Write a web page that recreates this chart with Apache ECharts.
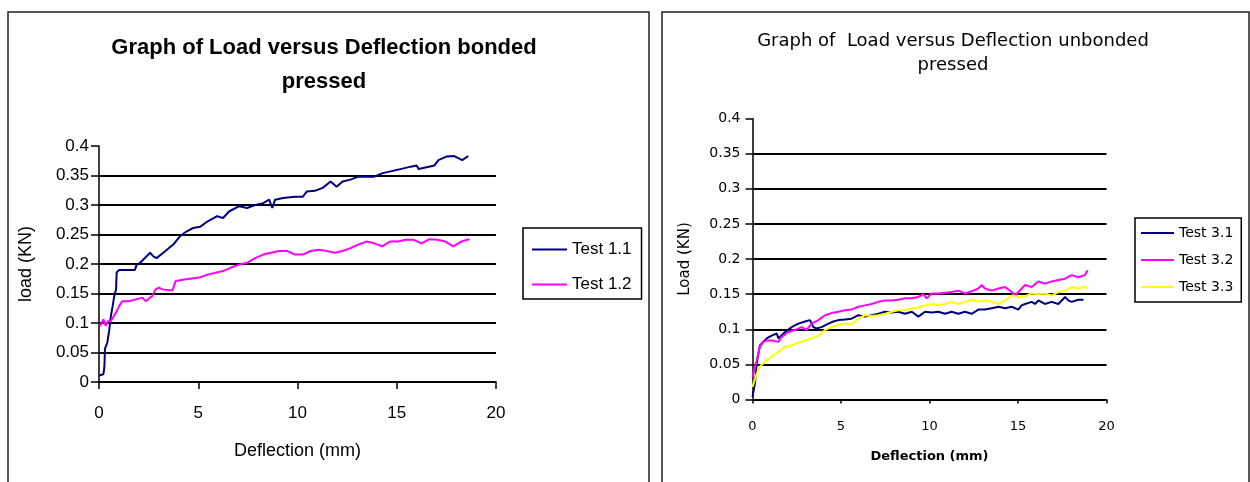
<!DOCTYPE html>
<html>
<head>
<meta charset="utf-8">
<script src="https://cdn.jsdelivr.net/npm/echarts@6/dist/echarts.min.js"></script>
<style>html,body{margin:0;padding:0;background:#fff}#c{width:1250px;height:482px}</style>
</head>
<body>
<div id="c"></div>
<script>
// ---- Data ----
const leftTitle = 'Graph of Load versus Deflection bonded\npressed';
const rightTitle = 'Graph of  Load versus Deflection unbonded\npressed';
const leftNames = ['Test 1.1', 'Test 1.2'];
const rightNames = ['Test 3.1', 'Test 3.2', 'Test 3.3'];

const t11x = [0,0.22,0.27,0.3,0.42,0.52,0.6,0.69,0.77,0.86,0.89,1.02,1.81,1.9,2.07,2.4,2.57,2.74,2.9,3.24,3.74,4.08,4.4,4.74,5.09,5.46,5.95,6.25,6.55,7.06,7.46,7.87,8.27,8.57,8.73,8.87,9.27,9.87,10.27,10.47,10.87,11.27,11.67,11.97,12.27,12.67,13.07,13.87,14.29,14.69,15.09,15.7,16.0,16.1,16.9,17.1,17.5,17.9,18.3,18.6];
const t11y = [0.011,0.013,0.025,0.056,0.067,0.089,0.112,0.129,0.146,0.157,0.186,0.19,0.19,0.199,0.202,0.213,0.219,0.213,0.21,0.219,0.233,0.247,0.255,0.261,0.263,0.272,0.281,0.278,0.289,0.298,0.295,0.300,0.303,0.309,0.295,0.309,0.312,0.314,0.314,0.323,0.324,0.329,0.34,0.331,0.34,0.343,0.348,0.348,0.354,0.357,0.36,0.365,0.367,0.361,0.367,0.376,0.382,0.383,0.376,0.383];

const t12x = [0.05,0.22,0.34,0.45,0.59,0.7,0.86,1.02,1.18,1.51,1.85,2.18,2.35,2.69,2.85,3.02,3.19,3.7,3.86,4.37,5.06,5.46,6.25,6.65,7.06,7.46,7.87,8.27,8.67,9.07,9.47,9.87,10.27,10.67,11.07,11.47,11.87,12.27,12.67,13.07,13.47,13.87,14.26,14.66,15.06,15.45,15.85,16.25,16.65,17.05,17.45,17.85,18.25,18.65];
const t12y = [0.095,0.106,0.095,0.103,0.103,0.109,0.118,0.129,0.137,0.137,0.140,0.143,0.137,0.146,0.157,0.16,0.157,0.155,0.171,0.174,0.177,0.182,0.188,0.194,0.199,0.202,0.21,0.216,0.219,0.222,0.222,0.216,0.216,0.222,0.224,0.222,0.219,0.222,0.227,0.233,0.238,0.235,0.230,0.238,0.238,0.241,0.241,0.235,0.242,0.241,0.238,0.23,0.238,0.242];

const t31x = [0,0.14,0.24,0.33,0.42,0.61,0.8,1.08,1.37,1.46,1.84,2.21,2.59,2.97,3.25,3.44,3.63,3.9,4.29,4.57,4.85,5.23,5.6,5.98,6.36,6.73,7.11,7.49,7.87,8.24,8.62,9.0,9.37,9.75,10.12,10.5,10.88,11.25,11.63,12.0,12.38,12.76,13.13,13.51,13.9,14.27,14.65,15.02,15.2,15.4,15.77,15.96,16.15,16.52,16.9,17.28,17.66,17.84,18.03,18.41,18.7];
const t31y = [0.004,0.023,0.051,0.065,0.077,0.082,0.087,0.091,0.094,0.087,0.096,0.103,0.108,0.111,0.113,0.103,0.101,0.103,0.108,0.111,0.113,0.114,0.115,0.12,0.118,0.12,0.122,0.125,0.124,0.125,0.122,0.125,0.118,0.125,0.124,0.125,0.122,0.125,0.122,0.125,0.122,0.128,0.128,0.13,0.132,0.13,0.132,0.128,0.134,0.136,0.139,0.136,0.141,0.136,0.139,0.136,0.146,0.141,0.139,0.142,0.142];

const t32x = [0,0.24,0.42,0.61,0.8,1.08,1.46,1.65,2.02,2.4,2.78,3.06,3.34,3.72,4.1,4.47,4.85,5.23,5.6,5.98,6.36,6.73,7.11,7.49,7.87,8.24,8.62,9.0,9.37,9.65,9.84,10.12,10.5,10.88,11.25,11.63,12.0,12.38,12.76,12.95,13.13,13.51,13.9,14.27,14.65,14.84,15.02,15.4,15.77,16.15,16.52,16.9,17.28,17.66,18.03,18.41,18.78,18.94];
const t32y = [0.032,0.056,0.075,0.082,0.084,0.084,0.082,0.089,0.096,0.099,0.103,0.099,0.108,0.113,0.12,0.123,0.125,0.127,0.128,0.132,0.134,0.136,0.139,0.141,0.141,0.142,0.144,0.144,0.146,0.15,0.144,0.151,0.151,0.152,0.153,0.155,0.151,0.154,0.158,0.163,0.158,0.155,0.158,0.16,0.153,0.148,0.153,0.163,0.16,0.168,0.165,0.168,0.170,0.172,0.177,0.174,0.177,0.184];

const t33x = [0,0.24,0.42,0.71,1.08,1.46,1.84,2.21,2.59,2.97,3.34,3.72,4.1,4.47,4.85,5.23,5.6,5.98,6.36,6.73,7.11,7.49,7.87,8.24,8.62,9.0,9.37,9.75,10.12,10.5,10.88,11.25,11.63,12.0,12.38,12.76,13.13,13.51,13.9,14.27,14.65,15.02,15.4,15.77,16.15,16.52,16.9,17.28,17.66,18.03,18.41,18.78,18.94];
const t33y = [0.018,0.037,0.047,0.054,0.061,0.068,0.075,0.077,0.081,0.084,0.087,0.091,0.099,0.103,0.106,0.108,0.107,0.115,0.12,0.119,0.12,0.122,0.125,0.127,0.127,0.13,0.131,0.134,0.136,0.134,0.136,0.139,0.136,0.139,0.142,0.139,0.141,0.139,0.136,0.141,0.148,0.146,0.147,0.151,0.15,0.151,0.148,0.153,0.155,0.16,0.158,0.161,0.158];

const xTicks = [0, 5, 10, 15, 20];
const yTicks = [0, 0.05, 0.1, 0.15, 0.2, 0.25, 0.3, 0.35, 0.4];

// ---- Build ----
const zip = (xs, ys) => xs.map((x, i) => [x, ys[i]]);
const LF = "'Liberation Sans', Arial, sans-serif";
const RF = "'DejaVu Sans', Verdana, sans-serif";

function xAxisOf(gi, font, size, name, nameGap, nameFont, tickLen, labelMargin) {
  return {
    type: 'value', gridIndex: gi, min: xTicks[0], max: xTicks[xTicks.length - 1], interval: xTicks[1] - xTicks[0],
    name: name, nameLocation: 'middle', nameGap: nameGap, nameTextStyle: nameFont,
    axisLine: { lineStyle: { color: '#000', width: 1.5 } },
    axisTick: { show: true, length: tickLen, lineStyle: { color: '#000', width: 1.5 } },
    axisLabel: { color: '#000', fontFamily: font, fontSize: size, margin: labelMargin },
    splitLine: { show: false }
  };
}
function yAxisOf(gi, font, size, name, nameGap, nameFont, tickLen, labelMargin) {
  return {
    type: 'value', gridIndex: gi, min: yTicks[0], max: yTicks[yTicks.length - 1], interval: 0.05,
    name: name, nameLocation: 'middle', nameGap: nameGap, nameTextStyle: nameFont,
    axisLine: { show: true, lineStyle: { color: '#000', width: 1.5 } },
    axisTick: { show: true, length: tickLen, lineStyle: { color: '#000', width: 1.5 } },
    axisLabel: { color: '#000', fontFamily: font, fontSize: size, margin: labelMargin },
    splitLine: { show: true, showMaxLine: false, lineStyle: { color: '#000', width: 2 } }
  };
}
function lineSeries(name, xi, data, color) {
  return { name: name, type: 'line', xAxisIndex: xi, yAxisIndex: xi, data: data, symbol: 'none',
    lineStyle: { color: color, width: 2 }, itemStyle: { color: color }, animation: false, z: 3 };
}

const option = {
  animation: false,
  backgroundColor: '#fff',
  graphic: [
    { type: 'rect', shape: { x: 8, y: 12, width: 641, height: 480 }, style: { fill: 'none', stroke: '#222', lineWidth: 1.5 }, silent: true },
    { type: 'rect', shape: { x: 662, y: 12, width: 587, height: 480 }, style: { fill: 'none', stroke: '#222', lineWidth: 1.5 }, silent: true }
  ],
  title: [
    { text: leftTitle, left: 324, top: 31, textAlign: 'center', padding: 0,
      textStyle: { fontFamily: "'Liberation Sans Narrow', 'Arial Narrow', 'Liberation Sans', sans-serif", fontWeight: 'bold', fontSize: 22, lineHeight: 34, color: '#000' } },
    { text: rightTitle, left: 953, top: 29, textAlign: 'center', padding: 0,
      textStyle: { fontFamily: RF, fontWeight: 'normal', fontSize: 18, lineHeight: 24, color: '#000' } }
  ],
  legend: [
    { data: leftNames, orient: 'vertical', left: 523, top: 228, width: 120, icon: 'rect',
      padding: [13, 10, 6, 9], itemGap: 18, itemWidth: 35, itemHeight: 2,
      borderColor: '#000', borderWidth: 1.5, backgroundColor: '#fff',
      textStyle: { fontFamily: LF, fontSize: 17, color: '#000' } },
    { data: rightNames, orient: 'vertical', left: 1135, top: 218, icon: 'rect',
      padding: [8, 8, 8, 6], itemGap: 13, itemWidth: 33, itemHeight: 2,
      borderColor: '#000', borderWidth: 1.5, backgroundColor: '#fff',
      textStyle: { fontFamily: RF, fontSize: 14, color: '#000' } }
  ],
  grid: [
    { left: 99, top: 146, width: 397, height: 236 },
    { left: 752.5, top: 118.5, width: 354, height: 281 }
  ],
  xAxis: [
    xAxisOf(0, LF, 17, 'Deflection (mm)', 60, { fontFamily: LF, fontSize: 18, color: '#000' }, 7, 23),
    xAxisOf(1, RF, 13, 'Deflection (mm)', 51, { fontFamily: RF, fontSize: 13, fontWeight: 'bold', color: '#000' }, 4, 21)
  ],
  yAxis: [
    yAxisOf(0, LF, 17, 'load (KN)', 64, { fontFamily: LF, fontSize: 18, color: '#000' }, 8, 10),
    yAxisOf(1, RF, 14, 'Load (KN)', 60, { fontFamily: RF, fontSize: 15, color: '#000' }, 7, 12)
  ],
  series: [
    lineSeries(leftNames[0], 0, zip(t11x, t11y), '#000080'),
    lineSeries(leftNames[1], 0, zip(t12x, t12y), '#FF00FF'),
    lineSeries(rightNames[0], 1, zip(t31x, t31y), '#000080'),
    lineSeries(rightNames[1], 1, zip(t32x, t32y), '#FF00FF'),
    lineSeries(rightNames[2], 1, zip(t33x, t33y), '#FFFF00')
  ]
};
const chart = echarts.init(document.getElementById('c'), null, { renderer: 'canvas' });
chart.setOption(option);
</script>
</body>
</html>
